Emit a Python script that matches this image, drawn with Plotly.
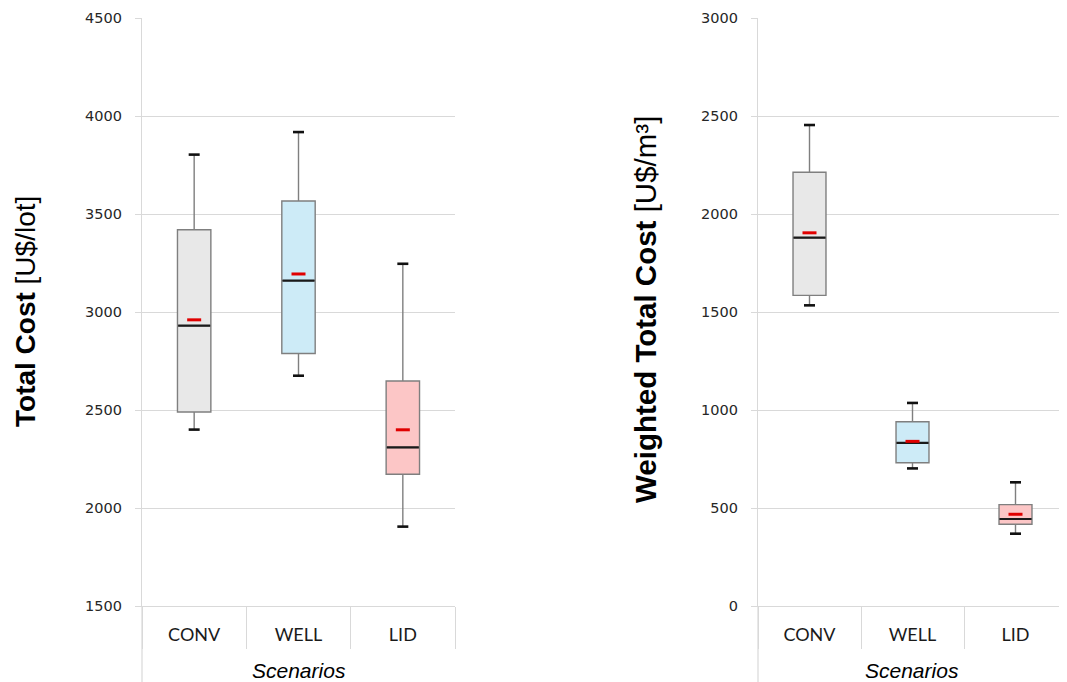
import plotly.graph_objects as go

# ---------------- data ----------------
scenarios = ["CONV", "WELL", "LID"]

# Total cost [U$/lot]
tc_low = [2400, 2675, 1905]
tc_q1 = [2490, 2788, 2172]
tc_median = [2930, 3160, 2309]
tc_q3 = [3420, 3566, 2648]
tc_high = [3803, 3918, 3246]
tc_mean = [2960, 3194, 2399]

# Weighted total cost [U$/m3]
wc_low = [1534, 702, 369]
wc_q1 = [1585, 731, 417]
wc_median = [1879, 832, 444]
wc_q3 = [2213, 940, 517]
wc_high = [2454, 1036, 631]
wc_mean = [1904, 840, 468]

fill_colors = ["#E8E8E8", "#CDEBF7", "#FCC6C6"]

# ---------------- figure ----------------
fig = go.Figure()

OFF = 8                      # page body margin
W, H = 1067 - OFF, 682 - OFF  # figure size inside the window
GRID = "#D9D9D9"
BOXLINE = "#7F7F7F"


def px_x(p):
    return (p - OFF) / W


def px_y(p):
    return 1 - (p - OFF) / H


# 'line-ew' marker spans 1.4 * size pixels
def ew(px):
    return px / 1.4


def add_panel(xa, ya, low, q1, med, q3, high, mean):
    for i, cat in enumerate(scenarios):
        fig.add_trace(go.Box(
            x=[cat], q1=[q1[i]], median=[med[i]], q3=[q3[i]],
            lowerfence=[low[i]], upperfence=[high[i]],
            fillcolor=fill_colors[i],
            line=dict(color=BOXLINE, width=1.4),
            whiskerwidth=0, width=0.32, boxpoints=False,
            xaxis=xa, yaxis=ya, showlegend=False, hoverinfo="skip",
        ))
    # whisker caps
    fig.add_trace(go.Scatter(
        x=scenarios + scenarios, y=high + low, mode="markers",
        marker=dict(symbol="line-ew", size=ew(11), color="#111111",
                    line=dict(width=2.6, color="#111111")),
        xaxis=xa, yaxis=ya, showlegend=False, hoverinfo="skip"))
    # medians
    fig.add_trace(go.Scatter(
        x=scenarios, y=med, mode="markers",
        marker=dict(symbol="line-ew", size=ew(32), color="#1a1a1a",
                    line=dict(width=2.2, color="#1a1a1a")),
        xaxis=xa, yaxis=ya, showlegend=False, hoverinfo="skip"))
    # means
    fig.add_trace(go.Scatter(
        x=scenarios, y=mean, mode="markers",
        marker=dict(symbol="line-ew", size=ew(14), color="#E00000",
                    line=dict(width=3, color="#E00000")),
        xaxis=xa, yaxis=ya, showlegend=False, hoverinfo="skip"))


add_panel("x", "y", tc_low, tc_q1, tc_median, tc_q3, tc_high, tc_mean)
add_panel("x2", "y2", wc_low, wc_q1, wc_median, wc_q3, wc_high, wc_mean)

# empty traces carrying the category divider axes
for xa, ya in [("x3", "y"), ("x4", "y2")]:
    fig.add_trace(go.Scatter(x=scenarios, y=[None] * len(scenarios), mode="markers",
                             xaxis=xa, yaxis=ya, showlegend=False, hoverinfo="skip"))

ydom = [px_y(606), px_y(18)]
xdom1 = [px_x(142), px_x(455)]
xdom2 = [px_x(758), 1.0]

tick_font = dict(family="DejaVu Sans", size=14.5, color="#262626")
cat_font = dict(family="Lato", size=18, color="#1a1a1a")
cat_range = [-0.5, len(scenarios) - 0.5]

xaxis_common = dict(
    type="category", categoryorder="array", categoryarray=scenarios,
    range=cat_range, automargin=False,
    showline=True, linecolor=GRID, linewidth=1.2,
    ticks="", ticklabelstandoff=12, tickfont=cat_font,
    showgrid=False, zeroline=False, fixedrange=True,
)
divider_common = dict(
    type="category", categoryorder="array", categoryarray=scenarios,
    range=cat_range, automargin=False, showline=False,
    ticks="outside", tickson="boundaries", ticklen=42, tickcolor=GRID,
    tickwidth=1.2, showticklabels=False,
    showgrid=False, zeroline=False, fixedrange=True,
)
yaxis_common = dict(
    showline=True, linecolor=GRID, linewidth=1.2, automargin=False,
    showgrid=True, gridcolor=GRID, gridwidth=1.2,
    ticks="outside", ticklen=6, tickcolor=GRID, tickwidth=1.2,
    ticklabelstandoff=10, tickfont=tick_font, zeroline=False,
    dtick=500, fixedrange=True, domain=ydom,
)

fig.update_layout(
    width=W, height=H,
    margin=dict(l=0, r=0, t=0, b=0, pad=0),
    paper_bgcolor="white", plot_bgcolor="white",
    xaxis=dict(domain=xdom1, anchor="y", **xaxis_common),
    xaxis2=dict(domain=xdom2, anchor="y2", **xaxis_common),
    xaxis3=dict(domain=xdom1, anchor="y", overlaying="x", **divider_common),
    xaxis4=dict(domain=xdom2, anchor="y2", overlaying="x2", **divider_common),
    yaxis=dict(anchor="x", range=[1500, 4500], **yaxis_common),
    yaxis2=dict(anchor="x2", range=[0, 3000], **yaxis_common),
    hovermode=False,
)

# left axis lines extend down through the category strip
for xa in ["x", "x2"]:
    fig.add_shape(type="line", xref=f"{xa} domain", yref="paper",
                  x0=0, x1=0, y0=0, y1=ydom[0],
                  line=dict(color=GRID, width=1.2), layer="below")

ymid = (ydom[0] + ydom[1]) / 2
fig.add_annotation(text="<b>Total Cost</b> [U$/lot]", xref="paper", yref="paper",
                   x=px_x(25), y=ymid, textangle=-90, showarrow=False,
                   xanchor="center", yanchor="middle",
                   font=dict(family="Liberation Sans", size=28, color="#000000"))
fig.add_annotation(text="<b>Weighted Total Cost</b> [U$/m³]", xref="paper", yref="paper",
                   x=px_x(645), y=px_y(310), textangle=-90, showarrow=False,
                   xanchor="center", yanchor="middle",
                   font=dict(family="Liberation Sans", size=29.5, color="#000000"))

scen_font = dict(family="Liberation Sans", size=21, color="#000000")
for xd in [xdom1, xdom2]:
    fig.add_annotation(text="<i>Scenarios</i>", xref="paper", yref="paper",
                       x=(xd[0] + xd[1]) / 2, y=px_y(670), showarrow=False,
                       xanchor="center", yanchor="middle", font=scen_font)

fig.write_html("out.html", config={"displayModeBar": False})
